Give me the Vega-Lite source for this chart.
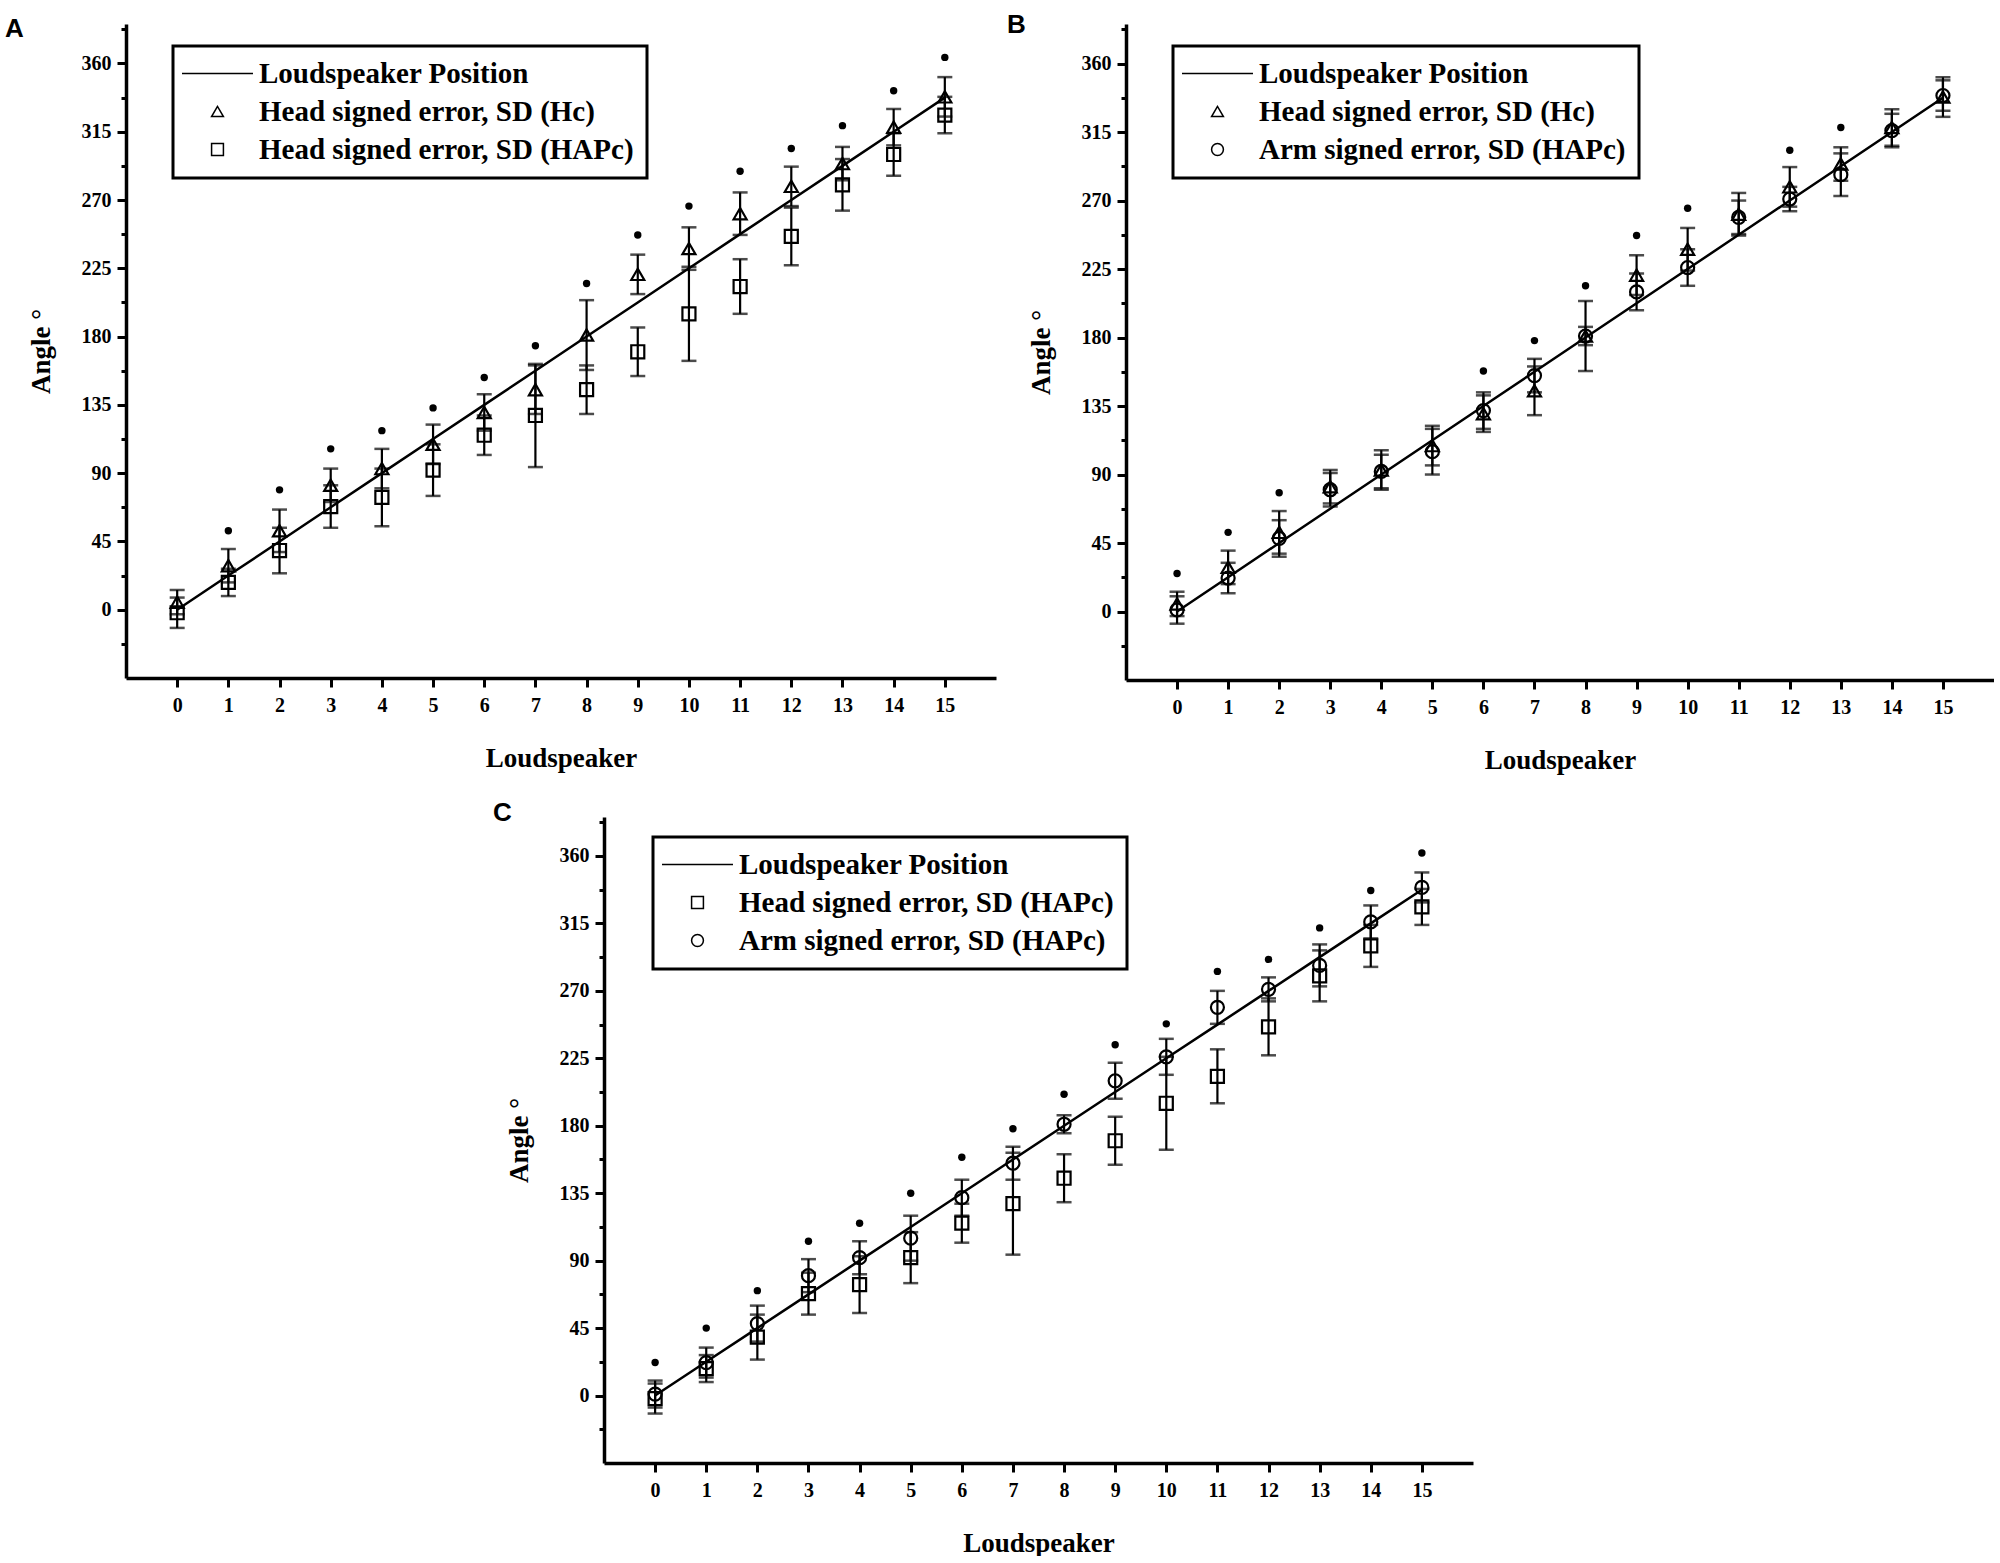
{
  "$schema": "https://vega.github.io/schema/vega-lite/v6.json",
  "background": "white",
  "padding": {"left": 5, "top": 12, "right": 0, "bottom": 0},
  "datasets": {
    "pos": [
      {"spk": 0, "angle": 0}, {"spk": 1, "angle": 22.5}, {"spk": 2, "angle": 45}, {"spk": 3, "angle": 67.5},
      {"spk": 4, "angle": 90}, {"spk": 5, "angle": 112.5}, {"spk": 6, "angle": 135}, {"spk": 7, "angle": 157.5},
      {"spk": 8, "angle": 180}, {"spk": 9, "angle": 202.5}, {"spk": 10, "angle": 225}, {"spk": 11, "angle": 247.5},
      {"spk": 12, "angle": 270}, {"spk": 13, "angle": 292.5}, {"spk": 14, "angle": 315}, {"spk": 15, "angle": 337.5}
    ],
    "err": [
      {"series": "Head signed error, SD (Hc)", "spk": 0, "mean": 5, "lo": -3, "hi": 13},
      {"series": "Head signed error, SD (Hc)", "spk": 1, "mean": 29, "lo": 18, "hi": 40},
      {"series": "Head signed error, SD (Hc)", "spk": 2, "mean": 52, "lo": 38, "hi": 66},
      {"series": "Head signed error, SD (Hc)", "spk": 3, "mean": 82, "lo": 71, "hi": 93},
      {"series": "Head signed error, SD (Hc)", "spk": 4, "mean": 93, "lo": 80, "hi": 106},
      {"series": "Head signed error, SD (Hc)", "spk": 5, "mean": 109, "lo": 96, "hi": 122},
      {"series": "Head signed error, SD (Hc)", "spk": 6, "mean": 130, "lo": 118, "hi": 142},
      {"series": "Head signed error, SD (Hc)", "spk": 7, "mean": 145, "lo": 129, "hi": 161},
      {"series": "Head signed error, SD (Hc)", "spk": 8, "mean": 181, "lo": 158, "hi": 204},
      {"series": "Head signed error, SD (Hc)", "spk": 9, "mean": 221, "lo": 208, "hi": 234},
      {"series": "Head signed error, SD (Hc)", "spk": 10, "mean": 238, "lo": 224, "hi": 252},
      {"series": "Head signed error, SD (Hc)", "spk": 11, "mean": 261, "lo": 247, "hi": 275},
      {"series": "Head signed error, SD (Hc)", "spk": 12, "mean": 279, "lo": 266, "hi": 292},
      {"series": "Head signed error, SD (Hc)", "spk": 13, "mean": 294, "lo": 283, "hi": 305},
      {"series": "Head signed error, SD (Hc)", "spk": 14, "mean": 318, "lo": 306, "hi": 330},
      {"series": "Head signed error, SD (Hc)", "spk": 15, "mean": 338, "lo": 325, "hi": 351},
      {"series": "Head signed error, SD (HAPc)", "spk": 0, "mean": -2, "lo": -12, "hi": 8},
      {"series": "Head signed error, SD (HAPc)", "spk": 1, "mean": 18, "lo": 9, "hi": 27},
      {"series": "Head signed error, SD (HAPc)", "spk": 2, "mean": 39, "lo": 24, "hi": 54},
      {"series": "Head signed error, SD (HAPc)", "spk": 3, "mean": 68, "lo": 54, "hi": 82},
      {"series": "Head signed error, SD (HAPc)", "spk": 4, "mean": 74, "lo": 55, "hi": 93},
      {"series": "Head signed error, SD (HAPc)", "spk": 5, "mean": 92, "lo": 75, "hi": 109},
      {"series": "Head signed error, SD (HAPc)", "spk": 6, "mean": 115, "lo": 102, "hi": 128},
      {"series": "Head signed error, SD (HAPc)", "spk": 7, "mean": 128, "lo": 94, "hi": 162},
      {"series": "Head signed error, SD (HAPc)", "spk": 8, "mean": 145, "lo": 129, "hi": 161},
      {"series": "Head signed error, SD (HAPc)", "spk": 9, "mean": 170, "lo": 154, "hi": 186},
      {"series": "Head signed error, SD (HAPc)", "spk": 10, "mean": 195, "lo": 164, "hi": 226},
      {"series": "Head signed error, SD (HAPc)", "spk": 11, "mean": 213, "lo": 195, "hi": 231},
      {"series": "Head signed error, SD (HAPc)", "spk": 12, "mean": 246, "lo": 227, "hi": 265},
      {"series": "Head signed error, SD (HAPc)", "spk": 13, "mean": 280, "lo": 263, "hi": 297},
      {"series": "Head signed error, SD (HAPc)", "spk": 14, "mean": 300, "lo": 286, "hi": 314},
      {"series": "Head signed error, SD (HAPc)", "spk": 15, "mean": 326, "lo": 314, "hi": 338},
      {"series": "Arm signed error, SD (HAPc)", "spk": 0, "mean": 1, "lo": -8, "hi": 10},
      {"series": "Arm signed error, SD (HAPc)", "spk": 1, "mean": 22, "lo": 12, "hi": 32},
      {"series": "Arm signed error, SD (HAPc)", "spk": 2, "mean": 48, "lo": 36, "hi": 60},
      {"series": "Arm signed error, SD (HAPc)", "spk": 3, "mean": 80, "lo": 69, "hi": 91},
      {"series": "Arm signed error, SD (HAPc)", "spk": 4, "mean": 92, "lo": 81, "hi": 103},
      {"series": "Arm signed error, SD (HAPc)", "spk": 5, "mean": 105, "lo": 90, "hi": 120},
      {"series": "Arm signed error, SD (HAPc)", "spk": 6, "mean": 132, "lo": 120, "hi": 144},
      {"series": "Arm signed error, SD (HAPc)", "spk": 7, "mean": 155, "lo": 144, "hi": 166},
      {"series": "Arm signed error, SD (HAPc)", "spk": 8, "mean": 181, "lo": 175, "hi": 187},
      {"series": "Arm signed error, SD (HAPc)", "spk": 9, "mean": 210, "lo": 198, "hi": 222},
      {"series": "Arm signed error, SD (HAPc)", "spk": 10, "mean": 226, "lo": 214, "hi": 238},
      {"series": "Arm signed error, SD (HAPc)", "spk": 11, "mean": 259, "lo": 248, "hi": 270},
      {"series": "Arm signed error, SD (HAPc)", "spk": 12, "mean": 271, "lo": 263, "hi": 279},
      {"series": "Arm signed error, SD (HAPc)", "spk": 13, "mean": 287, "lo": 273, "hi": 301},
      {"series": "Arm signed error, SD (HAPc)", "spk": 14, "mean": 316, "lo": 305, "hi": 327},
      {"series": "Arm signed error, SD (HAPc)", "spk": 15, "mean": 339, "lo": 329, "hi": 349}
    ],
    "sig": [
      {"panel": "A", "spk": 1, "angle": 52}, {"panel": "A", "spk": 2, "angle": 79}, {"panel": "A", "spk": 3, "angle": 106},
      {"panel": "A", "spk": 4, "angle": 118}, {"panel": "A", "spk": 5, "angle": 133}, {"panel": "A", "spk": 6, "angle": 153},
      {"panel": "A", "spk": 7, "angle": 174}, {"panel": "A", "spk": 8, "angle": 215}, {"panel": "A", "spk": 9, "angle": 247},
      {"panel": "A", "spk": 10, "angle": 266}, {"panel": "A", "spk": 11, "angle": 289}, {"panel": "A", "spk": 12, "angle": 304},
      {"panel": "A", "spk": 13, "angle": 319}, {"panel": "A", "spk": 14, "angle": 342}, {"panel": "A", "spk": 15, "angle": 364},
      {"panel": "B", "spk": 0, "angle": 25}, {"panel": "B", "spk": 1, "angle": 52}, {"panel": "B", "spk": 2, "angle": 78},
      {"panel": "B", "spk": 6, "angle": 158}, {"panel": "B", "spk": 7, "angle": 178}, {"panel": "B", "spk": 8, "angle": 214},
      {"panel": "B", "spk": 9, "angle": 247}, {"panel": "B", "spk": 10, "angle": 265}, {"panel": "B", "spk": 12, "angle": 303},
      {"panel": "B", "spk": 13, "angle": 318},
      {"panel": "C", "spk": 0, "angle": 22}, {"panel": "C", "spk": 1, "angle": 45}, {"panel": "C", "spk": 2, "angle": 70},
      {"panel": "C", "spk": 3, "angle": 103}, {"panel": "C", "spk": 4, "angle": 115}, {"panel": "C", "spk": 5, "angle": 135},
      {"panel": "C", "spk": 6, "angle": 159}, {"panel": "C", "spk": 7, "angle": 178}, {"panel": "C", "spk": 8, "angle": 201},
      {"panel": "C", "spk": 9, "angle": 234}, {"panel": "C", "spk": 10, "angle": 248}, {"panel": "C", "spk": 11, "angle": 283},
      {"panel": "C", "spk": 12, "angle": 291}, {"panel": "C", "spk": 13, "angle": 312}, {"panel": "C", "spk": 14, "angle": 337},
      {"panel": "C", "spk": 15, "angle": 362}
    ]
  },
  "vconcat": [
    {
      "hconcat": [
        {
          "width": 870, "height": 654,
          "title": {"text": "A", "dx": -22, "dy": 4},
          "layer": [
            {
              "data": {"name": "pos"},
              "mark": {"type": "line", "color": "black", "strokeWidth": 2.5},
              "encoding": {
                "x": {"field": "spk", "type": "quantitative", "scale": {"domain": [-1, 16], "nice": false, "zero": false},
                      "axis": {"values": [0,1,2,3,4,5,6,7,8,9,10,11,12,13,14,15], "title": "Loudspeaker"}},
                "y": {"field": "angle", "type": "quantitative", "scale": {"domain": [-45, 386], "nice": false, "zero": false},
                      "axis": {"orient": "left", "values": [0,45,90,135,180,225,270,315,360], "title": "Angle °"}}
              }
            },
            {
              "data": {"name": "pos"},
              "mark": {"type": "line", "opacity": 0},
              "encoding": {
                "x": {"field": "spk", "type": "quantitative"},
                "y": {"field": "angle", "type": "quantitative", "scale": {"domain": [-45, 386], "nice": false, "zero": false},
                      "axis": {"orient": "left", "values": [-22.5,22.5,67.5,112.5,157.5,202.5,247.5,292.5,337.5,382.5], "labels": false, "domain": false, "title": null, "tickSize": 5}}
              }
            },
            {
              "data": {"name": "err"},
              "transform": [{"filter": {"field": "series", "oneOf": ["Head signed error, SD (Hc)", "Head signed error, SD (HAPc)"]}}],
              "mark": {"type": "errorbar", "color": "black", "thickness": 2.2, "ticks": {"size": 15, "thickness": 2.5}},
              "encoding": {
                "x": {"field": "spk", "type": "quantitative"},
                "y": {"field": "lo", "type": "quantitative", "scale": {"domain": [-45, 386], "nice": false, "zero": false}, "axis": null},
                "y2": {"field": "hi"}
              }
            },
            {
              "data": {"name": "err"},
              "transform": [{"filter": {"field": "series", "oneOf": ["Head signed error, SD (Hc)", "Head signed error, SD (HAPc)"]}}],
              "mark": {"type": "point", "filled": false, "color": "black", "strokeWidth": 2.2, "size": 170, "opacity": 1},
              "encoding": {
                "x": {"field": "spk", "type": "quantitative"},
                "y": {"field": "mean", "type": "quantitative", "scale": {"domain": [-45, 386], "nice": false, "zero": false}, "axis": null},
                "shape": {"field": "series", "type": "nominal",
                          "scale": {"domain": ["Loudspeaker Position", "Head signed error, SD (Hc)", "Head signed error, SD (HAPc)"], "range": ["M-6,0H6", "triangle-up", "square"]},
                          "legend": {"title": null, "orient": "none", "legendX": 47, "legendY": 22,
                                     "encode": {"symbols": {"stroke": {"value": "black"}, "strokeWidth": {"value": 2.8}, "opacity": {"value": 1}}}}}
              }
            },
            {
              "data": {"name": "sig"},
              "transform": [{"filter": "datum.panel == 'A'"}],
              "mark": {"type": "circle", "color": "black", "size": 55, "opacity": 1},
              "encoding": {
                "x": {"field": "spk", "type": "quantitative"},
                "y": {"field": "angle", "type": "quantitative", "scale": {"domain": [-45, 386], "nice": false, "zero": false}, "axis": null}
              }
            }
          ],
          "resolve": {"axis": {"y": "independent"}}
        },
        {
          "width": 868, "height": 656,
          "title": {"text": "B", "dx": -20},
          "layer": [
            {
              "data": {"name": "pos"},
              "mark": {"type": "line", "color": "black", "strokeWidth": 2.5},
              "encoding": {
                "x": {"field": "spk", "type": "quantitative", "scale": {"domain": [-1, 16], "nice": false, "zero": false},
                      "axis": {"values": [0,1,2,3,4,5,6,7,8,9,10,11,12,13,14,15], "title": "Loudspeaker"}},
                "y": {"field": "angle", "type": "quantitative", "scale": {"domain": [-45, 386], "nice": false, "zero": false},
                      "axis": {"orient": "left", "values": [0,45,90,135,180,225,270,315,360], "title": "Angle °"}}
              }
            },
            {
              "data": {"name": "pos"},
              "mark": {"type": "line", "opacity": 0},
              "encoding": {
                "x": {"field": "spk", "type": "quantitative"},
                "y": {"field": "angle", "type": "quantitative", "scale": {"domain": [-45, 386], "nice": false, "zero": false},
                      "axis": {"orient": "left", "values": [-22.5,22.5,67.5,112.5,157.5,202.5,247.5,292.5,337.5,382.5], "labels": false, "domain": false, "title": null, "tickSize": 5}}
              }
            },
            {
              "data": {"name": "err"},
              "transform": [{"filter": {"field": "series", "oneOf": ["Head signed error, SD (Hc)", "Arm signed error, SD (HAPc)"]}}],
              "mark": {"type": "errorbar", "color": "black", "thickness": 2.2, "ticks": {"size": 15, "thickness": 2.5}},
              "encoding": {
                "x": {"field": "spk", "type": "quantitative"},
                "y": {"field": "lo", "type": "quantitative", "scale": {"domain": [-45, 386], "nice": false, "zero": false}, "axis": null},
                "y2": {"field": "hi"}
              }
            },
            {
              "data": {"name": "err"},
              "transform": [{"filter": {"field": "series", "oneOf": ["Head signed error, SD (Hc)", "Arm signed error, SD (HAPc)"]}}],
              "mark": {"type": "point", "filled": false, "color": "black", "strokeWidth": 2.2, "size": 170, "opacity": 1},
              "encoding": {
                "x": {"field": "spk", "type": "quantitative"},
                "y": {"field": "mean", "type": "quantitative", "scale": {"domain": [-45, 386], "nice": false, "zero": false}, "axis": null},
                "shape": {"field": "series", "type": "nominal",
                          "scale": {"domain": ["Loudspeaker Position", "Head signed error, SD (Hc)", "Arm signed error, SD (HAPc)"], "range": ["M-6,0H6", "triangle-up", "circle"]},
                          "legend": {"title": null, "orient": "none", "legendX": 47, "legendY": 22,
                                     "encode": {"symbols": {"stroke": {"value": "black"}, "strokeWidth": {"value": 2.8}, "opacity": {"value": 1}}}}}
              }
            },
            {
              "data": {"name": "sig"},
              "transform": [{"filter": "datum.panel == 'B'"}],
              "mark": {"type": "circle", "color": "black", "size": 55, "opacity": 1},
              "encoding": {
                "x": {"field": "spk", "type": "quantitative"},
                "y": {"field": "angle", "type": "quantitative", "scale": {"domain": [-45, 386], "nice": false, "zero": false}, "axis": null}
              }
            }
          ],
          "resolve": {"axis": {"y": "independent"}}
        }
      ],
      "spacing": 11,
      "resolve": {"scale": {"shape": "independent"}, "legend": {"shape": "independent"}}
    },
    {
      "hconcat": [
        {
          "width": 355, "height": 10,
          "data": {"values": []},
          "mark": "point"
        },
        {
          "width": 869, "height": 646,
          "title": {"text": "C", "dx": -12, "dy": -5},
          "layer": [
            {
              "data": {"name": "pos"},
              "mark": {"type": "line", "color": "black", "strokeWidth": 2.5},
              "encoding": {
                "x": {"field": "spk", "type": "quantitative", "scale": {"domain": [-1, 16], "nice": false, "zero": false},
                      "axis": {"values": [0,1,2,3,4,5,6,7,8,9,10,11,12,13,14,15], "title": "Loudspeaker"}},
                "y": {"field": "angle", "type": "quantitative", "scale": {"domain": [-45, 386], "nice": false, "zero": false},
                      "axis": {"orient": "left", "values": [0,45,90,135,180,225,270,315,360], "title": "Angle °"}}
              }
            },
            {
              "data": {"name": "pos"},
              "mark": {"type": "line", "opacity": 0},
              "encoding": {
                "x": {"field": "spk", "type": "quantitative"},
                "y": {"field": "angle", "type": "quantitative", "scale": {"domain": [-45, 386], "nice": false, "zero": false},
                      "axis": {"orient": "left", "values": [-22.5,22.5,67.5,112.5,157.5,202.5,247.5,292.5,337.5,382.5], "labels": false, "domain": false, "title": null, "tickSize": 5}}
              }
            },
            {
              "data": {"name": "err"},
              "transform": [{"filter": {"field": "series", "oneOf": ["Head signed error, SD (HAPc)", "Arm signed error, SD (HAPc)"]}}],
              "mark": {"type": "errorbar", "color": "black", "thickness": 2.2, "ticks": {"size": 15, "thickness": 2.5}},
              "encoding": {
                "x": {"field": "spk", "type": "quantitative"},
                "y": {"field": "lo", "type": "quantitative", "scale": {"domain": [-45, 386], "nice": false, "zero": false}, "axis": null},
                "y2": {"field": "hi"}
              }
            },
            {
              "data": {"name": "err"},
              "transform": [{"filter": {"field": "series", "oneOf": ["Head signed error, SD (HAPc)", "Arm signed error, SD (HAPc)"]}}],
              "mark": {"type": "point", "filled": false, "color": "black", "strokeWidth": 2.2, "size": 170, "opacity": 1},
              "encoding": {
                "x": {"field": "spk", "type": "quantitative"},
                "y": {"field": "mean", "type": "quantitative", "scale": {"domain": [-45, 386], "nice": false, "zero": false}, "axis": null},
                "shape": {"field": "series", "type": "nominal",
                          "scale": {"domain": ["Loudspeaker Position", "Head signed error, SD (HAPc)", "Arm signed error, SD (HAPc)"], "range": ["M-6,0H6", "square", "circle"]},
                          "legend": {"title": null, "orient": "none", "legendX": 49, "legendY": 20,
                                     "encode": {"symbols": {"stroke": {"value": "black"}, "strokeWidth": {"value": 2.8}, "opacity": {"value": 1}}}}}
              }
            },
            {
              "data": {"name": "sig"},
              "transform": [{"filter": "datum.panel == 'C'"}],
              "mark": {"type": "circle", "color": "black", "size": 55, "opacity": 1},
              "encoding": {
                "x": {"field": "spk", "type": "quantitative"},
                "y": {"field": "angle", "type": "quantitative", "scale": {"domain": [-45, 386], "nice": false, "zero": false}, "axis": null}
              }
            }
          ],
          "resolve": {"axis": {"y": "independent"}}
        }
      ],
      "spacing": 12,
      "resolve": {"scale": {"shape": "independent"}, "legend": {"shape": "independent"}}
    }
  ],
  "spacing": 27,
  "resolve": {"scale": {"shape": "independent"}, "legend": {"shape": "independent"}},
  "config": {
    "view": {"stroke": null},
    "axis": {
      "grid": false,
      "domainColor": "black", "domainWidth": 3.5,
      "tickColor": "black", "tickWidth": 3, "tickSize": 9,
      "labelFont": "Liberation Serif", "labelFontWeight": "bold", "labelFontSize": 20, "labelColor": "black",
      "titleFont": "Liberation Serif", "titleFontWeight": "bold", "titleFontSize": 27, "titleColor": "black"
    },
    "axisX": {"labelPadding": 8, "titlePadding": 30},
    "axisY": {"labelPadding": 6, "titlePadding": 26},
    "title": {"font": "Liberation Sans", "fontSize": 26, "fontWeight": "bold", "anchor": "start", "frame": "bounds", "color": "black", "offset": -14},
    "legend": {
      "strokeColor": "black", "strokeWidth": 3, "padding": 13,
      "symbolOffset": 17, "labelOffset": 27, "symbolSize": 140,
      "labelFont": "Liberation Serif", "labelFontSize": 29, "labelFontWeight": "bold", "labelColor": "black", "labelLimit": 700,
      "rowPadding": 8
    }
  }
}
